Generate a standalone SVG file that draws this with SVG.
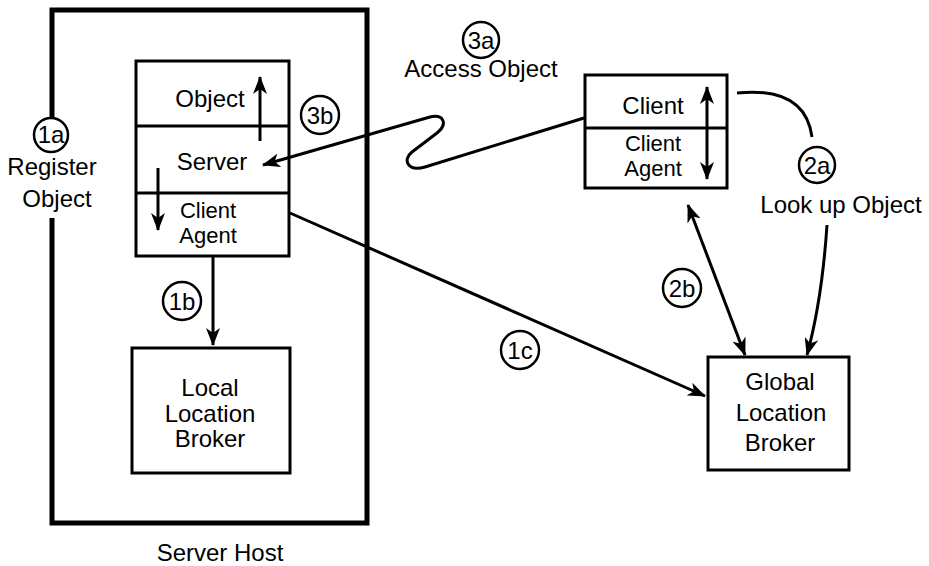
<svg xmlns="http://www.w3.org/2000/svg" width="929" height="566" viewBox="0 0 929 566">
<style>
text{font-family:"Liberation Sans",Arial,sans-serif;font-size:24px;fill:#000;text-anchor:middle}
text.sm{font-size:22px}
.box{fill:#fff;stroke:#000;stroke-width:3}
.div{stroke:#000;stroke-width:3}
.num{fill:#fff;stroke:#000;stroke-width:2.5}
.con{fill:none;stroke:#000;stroke-width:3}
.arr{marker-end:url(#ah)}
.arr2{marker-start:url(#ah);marker-end:url(#ah)}
</style>
<defs>
<marker id="ah" markerUnits="userSpaceOnUse" markerWidth="20" markerHeight="14" refX="17" refY="7" orient="auto-start-reverse" viewBox="0 0 20 14">
<path d="M0,0 L18,7 L0,14 L5,7 z" fill="#000"/>
</marker>
</defs>

<g id="server-host">
<path d="M52,120 V10 H367 V523 H52 V218" fill="none" stroke="#000" stroke-width="5"/>
<text x="220" y="561">Server Host</text>
</g>

<g id="server-stack">
<rect class="box" x="136" y="61" width="153" height="195"/>
<line class="div" x1="136" y1="126" x2="289" y2="126"/>
<line class="div" x1="136" y1="193" x2="289" y2="193"/>
<text x="210" y="107">Object</text>
<text x="212" y="170">Server</text>
<text class="sm" x="208" y="218">Client</text>
<text class="sm" x="208" y="243">Agent</text>
</g>

<g id="local-location-broker">
<rect class="box" x="132" y="348" width="158" height="125"/>
<text x="210" y="396">Local</text>
<text x="210" y="422">Location</text>
<text x="210" y="447">Broker</text>
</g>

<g id="client-stack">
<rect class="box" x="585" y="75" width="142" height="113"/>
<line class="div" x1="585" y1="128" x2="727" y2="128"/>
<text x="653" y="114">Client</text>
<text class="sm" x="653" y="151">Client</text>
<text class="sm" x="653" y="176">Agent</text>
</g>

<g id="global-location-broker">
<rect class="box" x="708" y="357" width="141" height="113"/>
<text x="780" y="390">Global</text>
<text x="781" y="421">Location</text>
<text x="780" y="451">Broker</text>
</g>

<g id="connectors">
<line class="con arr" x1="260" y1="141" x2="260" y2="77"/>
<line class="con arr" x1="158" y1="168" x2="158" y2="230"/>
<line class="con arr" x1="213" y1="257" x2="213" y2="345"/>
<line class="con arr" x1="290" y1="213" x2="705" y2="396"/>
<path class="con arr" d="M584,118 L425,167 C408,172 402,160 412,152 L437,133 C448,124 444,114 430,117 L263,165"/>
<line class="con arr2" x1="707" y1="87" x2="707" y2="179"/>
<path class="con" d="M737,93 Q805,86 812,137"/>
<path class="con arr" d="M827,225 Q822,300 807,355"/>
<line class="con arr2" x1="688" y1="205" x2="745" y2="355"/>
</g>

<g id="label-1a">
<circle class="num" cx="51" cy="135" r="17"/>
<text x="51" y="143">1a</text>
<text x="52" y="175">Register</text>
<text x="57" y="207">Object</text>
</g>
<g id="label-1b">
<circle class="num" cx="182" cy="301" r="19"/>
<text x="182" y="310">1b</text>
</g>
<g id="label-1c">
<circle class="num" cx="520" cy="350" r="19"/>
<text x="520" y="359">1c</text>
</g>
<g id="label-2a">
<circle class="num" cx="817" cy="165" r="18"/>
<text x="817" y="174">2a</text>
<text x="841" y="213">Look up Object</text>
</g>
<g id="label-2b">
<circle class="num" cx="682" cy="288" r="19"/>
<text x="682" y="297">2b</text>
</g>
<g id="label-3a">
<circle class="num" cx="481" cy="40" r="18"/>
<text x="481" y="49">3a</text>
<text x="481" y="77">Access Object</text>
</g>
<g id="label-3b">
<circle class="num" cx="320" cy="115" r="19"/>
<text x="320" y="124">3b</text>
</g>
</svg>
